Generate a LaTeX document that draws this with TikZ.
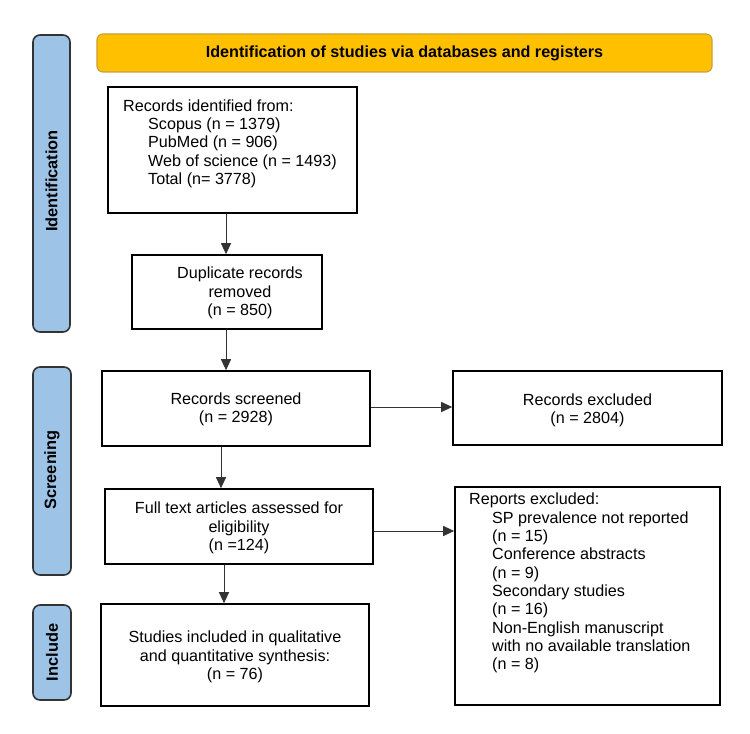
\documentclass[tikz,border=0pt]{standalone}
\usepackage{fontspec}
\setmainfont{Liberation Sans}
\usetikzlibrary{arrows.meta}
\definecolor{sideblue}{HTML}{9DC3E6}
\definecolor{bannerfill}{HTML}{FFC000}
\definecolor{bannerdraw}{HTML}{C9A13A}
\definecolor{linegray}{HTML}{333333}
\begin{document}
\begin{tikzpicture}[x=1bp,y=-1bp,
  box/.style={draw=black, line width=1.6bp, fill=white, inner sep=0pt},
  txt/.style={inner sep=0pt, font=\fontsize{16.2}{18.4}\selectfont},
  side/.style={draw=linegray, line width=1.6bp, fill=sideblue, rounded corners=7bp, inner sep=0pt},
  sidetxt/.style={inner sep=0pt, rotate=90, font=\fontsize{16.4}{18}\selectfont\bfseries},
  banner/.style={draw=bannerdraw, line width=1.2bp, fill=bannerfill, rounded corners=6bp, inner sep=0pt},
  arr/.style={draw=linegray, line width=1bp, -{Triangle[length=11bp,width=10bp]}}]
\useasboundingbox (0,0) rectangle (750,734);

% banner and side labels
\node[banner, minimum width=615bp, minimum height=38bp] (ban) at (404.5,53) {};
\node[txt, font=\fontsize{16.2}{18}\selectfont\bfseries] (bant) at (404.5,53) {Identification of studies via databases and registers};

\node[side, minimum width=37bp, minimum height=297bp] (sid) at (51.5,183.5) {};
\node[sidetxt] (sidt) at (51.5,181) {Identification};
\node[side, minimum width=38bp, minimum height=208bp] (sscr) at (52,471) {};
\node[sidetxt] (sscrt) at (52,470) {Screening};
\node[side, minimum width=38bp, minimum height=95bp] (sinc) at (52,652.5) {};
\node[sidetxt] (sinct) at (52,652.5) {Include};

% boxes
\node[box, minimum width=249bp, minimum height=126bp] (b1) at (232.5,150) {};
\node[txt, anchor=west, align=left] (b1t) at (123,143.5) {Records identified from:\\
\hspace*{25bp}Scopus (n = 1379)\\
\hspace*{25bp}PubMed (n = 906)\\
\hspace*{25bp}Web of science (n = 1493)\\
\hspace*{25bp}Total (n= 3778)};

\node[box, minimum width=190bp, minimum height=74bp] (b2) at (227,292) {};
\node[txt, align=center] (b2t) at (240,293) {Duplicate records\\removed\\(n = 850)};

\node[box, minimum width=268bp, minimum height=75bp] (b3) at (236,408.5) {};
\node[txt, align=center] (b3t) at (236,409.5) {Records screened\\(n = 2928)};

\node[box, minimum width=269bp, minimum height=74bp] (ex) at (587.5,408) {};
\node[txt, align=center] (ext) at (587.5,410) {Records excluded\\(n = 2804)};

\node[box, minimum width=268bp, minimum height=75bp] (ft) at (239,526.5) {};
\node[txt, align=center] (ftt) at (239,528) {Full text articles assessed for\\eligibility\\(n =124)};

\node[box, minimum width=268bp, minimum height=102bp] (inc) at (235,655) {};
\node[txt, align=center] (inct) at (235,657) {Studies included in qualitative\\and quantitative synthesis:\\(n = 76)};

\node[box, minimum width=265bp, minimum height=218bp] (rep) at (587.5,596) {};
\node[txt, anchor=west, align=left] (rept) at (469,583) {Reports excluded:\\
\hspace*{23bp}SP prevalence not reported\\
\hspace*{23bp}(n = 15)\\
\hspace*{23bp}Conference abstracts\\
\hspace*{23bp}(n = 9)\\
\hspace*{23bp}Secondary studies\\
\hspace*{23bp}(n = 16)\\
\hspace*{23bp}Non-English manuscript\\
\hspace*{23bp}with no available translation\\
\hspace*{23bp}(n = 8)};

% connectors
\coordinate (c1) at (226,0);
\coordinate (c3) at (221,0);
\coordinate (c4) at (224,0);
\coordinate (r1) at (0,407);
\coordinate (r2) at (0,531);
\draw[arr] (c1 |- b1.south) -- (c1 |- b2.north);
\draw[arr] (c1 |- b2.south) -- (c1 |- b3.north);
\draw[arr] (c3 |- b3.south) -- (c3 |- ft.north);
\draw[arr] (c4 |- ft.south) -- (c4 |- inc.north);
\draw[arr] (b3.east |- r1) -- (ex.west |- r1);
\draw[arr] (ft.east |- r2) -- (rep.west |- r2);
\end{tikzpicture}
\end{document}
